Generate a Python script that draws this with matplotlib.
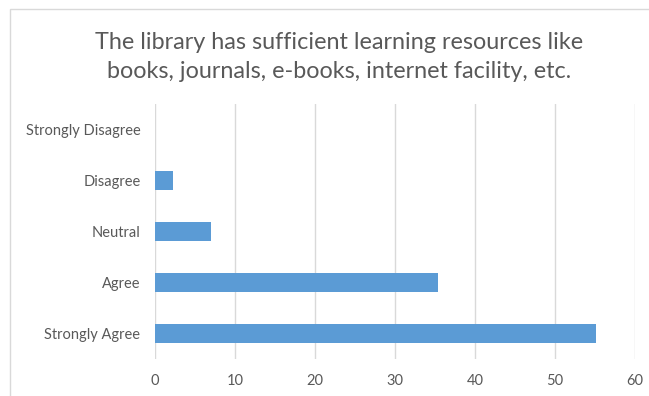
import matplotlib.pyplot as plt
from matplotlib.patches import Rectangle

categories = ["Strongly Agree", "Agree", "Neutral", "Disagree", "Strongly Disagree"]
values = [55.1, 35.4, 7.0, 2.2, 0.0]
x_ticks = [0, 10, 20, 30, 40, 50, 60]

title = "The library has sufficient learning resources like\nbooks, journals, e-books, internet facility, etc."

plt.rcParams["font.family"] = ["Lato", "DejaVu Sans"]
text_color = "#595959"
grid_color = "#D9D9D9"

fig = plt.figure(figsize=(6.49, 3.96), dpi=100)

# chart frame (cut off on right and bottom like the screenshot)
fig.patches.append(Rectangle((10 / 649, -0.1), 1.0, (396 - 9) / 396 + 0.1,
                             transform=fig.transFigure, fill=False,
                             edgecolor="#D9D9D9", linewidth=1.0))

ax = fig.add_axes([155 / 649, 37 / 396, 480 / 649, 255 / 396])

ax.barh(range(len(categories)), values, height=0.37, color="#5B9BD5", zorder=3)

ax.set_xlim(0, 60)
ax.set_ylim(-0.5, len(categories) - 0.5)
ax.set_xticks(x_ticks)
ax.set_yticks(range(len(categories)))
ax.set_yticklabels(categories)

ax.grid(axis="x", color=grid_color, linewidth=1.0, zorder=0)
for s in ax.spines.values():
    s.set_visible(False)
ax.tick_params(axis="both", length=0, labelsize=10.5, colors=text_color)
ax.tick_params(axis="y", pad=10.5)
ax.tick_params(axis="x", pad=11)

fig.text(339 / 649, 1 - 57 / 396, title, ha="center", va="center",
         fontsize=16.8, color=text_color, linespacing=1.42)

plt.savefig("out.png", dpi=100)
